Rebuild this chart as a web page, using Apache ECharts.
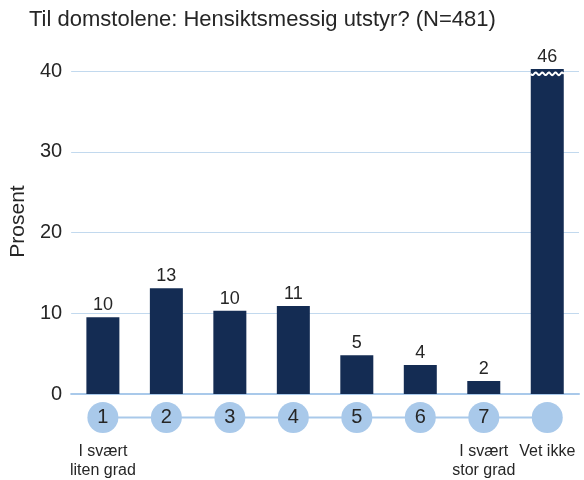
<!DOCTYPE html>
<html>
<head>
<meta charset="utf-8">
<script src="https://cdn.jsdelivr.net/npm/echarts@6/dist/echarts.min.js"></script>
<style>
html,body{margin:0;padding:0;background:#fff;}
#chart{width:584px;height:480px;}
</style>
</head>
<body>
<div id="chart"></div>
<script>
// ---- data ----
const titleText = 'Til domstolene: Hensiktsmessig utstyr? (N=481)';
const yAxisName = 'Prosent';
const categories = ['1', '2', '3', '4', '5', '6', '7', 'Vet ikke'];
const circleLabels = ['1', '2', '3', '4', '5', '6', '7', ''];
const scaleLabels = ['I svært\nliten grad', '', '', '', '', '', 'I svært\nstor grad', 'Vet ikke'];
const values = [9.5, 13.1, 10.3, 10.9, 4.8, 3.6, 1.6, 46];
const yMin = 0;
const yMax = 40;
const yInterval = 10;

// ---- styles ----
const FONT = 'Liberation Sans, Arial, sans-serif';
const barColor = '#142c53';
const lightBlue = '#a9c9ea';
const gridColor = '#c2d9ee';
const textColor = '#262626';
const barWidth = 33;
const capOvershoot = 0.25; // truncated bars poke slightly above the top gridline

const chart = echarts.init(document.getElementById('chart'), null, {renderer: 'canvas'});

const option = {
  animation: false,
  backgroundColor: '#ffffff',
  textStyle: {fontFamily: FONT},
  title: {
    text: titleText,
    left: 24,
    top: 4,
    textStyle: {fontFamily: FONT, fontSize: 22, fontWeight: 'normal', color: textColor}
  },
  grid: {left: 71, right: 5, top: 71, bottom: 86, containLabel: false},
  xAxis: {
    type: 'category',
    data: categories,
    axisTick: {show: false},
    axisLine: {show: true, lineStyle: {color: lightBlue, width: 2}},
    axisLabel: {
      interval: 0,
      margin: 48,
      fontFamily: FONT,
      fontSize: 16,
      lineHeight: 19,
      color: textColor,
      formatter: (v, i) => scaleLabels[i]
    },
    splitLine: {show: false}
  },
  yAxis: {
    type: 'value',
    min: yMin,
    max: yMax,
    interval: yInterval,
    name: yAxisName,
    nameLocation: 'middle',
    nameGap: 42,
    nameTextStyle: {fontFamily: FONT, fontSize: 21, color: textColor, padding: [0, 0, 0, 22]},
    axisLine: {show: false},
    axisTick: {show: false},
    axisLabel: {fontFamily: FONT, fontSize: 20, color: textColor, margin: 9},
    splitLine: {show: true, lineStyle: {color: gridColor, width: 1}}
  },
  series: [
    {
      type: 'bar',
      data: values.map(v => (v > yMax ? yMax + capOvershoot : v)),
      barWidth: barWidth,
      itemStyle: {color: barColor},
      clip: false,
      z: 3,
      label: {
        show: true,
        position: 'top',
        distance: 3,
        fontFamily: FONT,
        fontSize: 18,
        color: textColor,
        formatter: p => String(Math.round(values[p.dataIndex]))
      }
    },
    {
      // broken-axis wave on bars exceeding the axis max
      type: 'custom',
      z: 5,
      silent: true,
      clip: false,
      data: values.map((v, i) => [i, v]),
      renderItem: function (params, api) {
        if (api.value(1) <= yMax) return null;
        const p = api.coord([api.value(0), yMax]);
        const x0 = p[0] - barWidth / 2;
        const yc = p[1] + 2.8;
        const pts = [];
        for (let x = 0; x <= barWidth; x += 0.5) {
          pts.push([x0 + x, yc + 1.3 * Math.sin(2 * Math.PI * x / 6.6)]);
        }
        return {
          type: 'polyline',
          shape: {points: pts},
          style: {stroke: '#ffffff', lineWidth: 2, fill: null}
        };
      }
    },
    {
      // circled scale points below the axis
      type: 'custom',
      z: 4,
      silent: true,
      clip: false,
      data: categories.map((c, i) => [i, 0]),
      renderItem: function (params, api) {
        const i = params.dataIndex;
        const p = api.coord([i, 0]);
        const cy = p[1] + 23.5;
        const children = [];
        if (i < categories.length - 1) {
          const q = api.coord([i + 1, 0]);
          children.push({
            type: 'line',
            z2: 0,
            shape: {x1: p[0], y1: cy, x2: q[0], y2: cy},
            style: {stroke: lightBlue, lineWidth: 2}
          });
        }
        children.push({
          type: 'circle',
          z2: 5,
          shape: {cx: p[0], cy: cy, r: 15.5},
          style: {fill: lightBlue}
        });
        if (circleLabels[i]) {
          children.push({
            type: 'text',
            z2: 10,
            x: p[0],
            y: cy,
            style: {
              text: circleLabels[i],
              fill: textColor,
              font: '20px ' + FONT,
              align: 'center',
              verticalAlign: 'middle',
              textAlign: 'center',
              textVerticalAlign: 'middle'
            }
          });
        }
        return {type: 'group', children: children};
      }
    }
  ]
};

chart.setOption(option);
</script>
</body>
</html>
